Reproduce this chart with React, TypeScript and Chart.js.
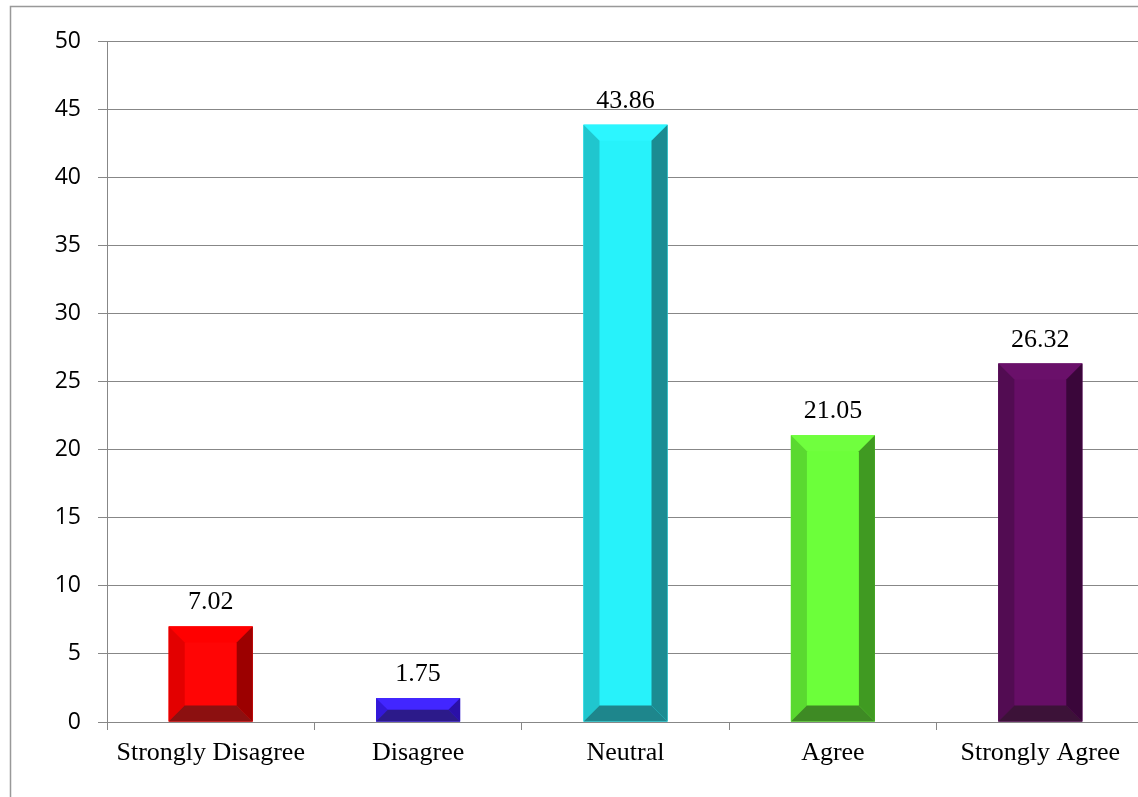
import React, { useEffect, useRef } from "react";
import { Chart, registerables } from "chart.js";

Chart.register(...registerables);

const categories = ["Strongly Disagree", "Disagree", "Neutral", "Agree", "Strongly Agree"];
const percentValues = [7.02, 1.75, 43.86, 21.05, 26.32];
const yTicks = [0, 5, 10, 15, 20, 25, 30, 35, 40, 45, 50];

const faceColors = ["#FF0505", "#3C1FF6", "#27F2FA", "#6CFF3A", "#660E66"];
const topColors = ["#FF0000", "#4226FF", "#2CF6FF", "#70FF3E", "#6A106A"];
const leftColors = ["#E30000", "#3318D8", "#20C6CE", "#5AD930", "#520C52"];
const rightColors = ["#9C0000", "#2A10A8", "#1B8C92", "#409A22", "#3A063A"];
const bottomColors = ["#8C1010", "#2C1A8A", "#1E868C", "#3E8A24", "#3C1238"];

const GRID = "#878787";
const CANVAS_W = 1144;
const CANVAS_H = 797;

const bevelPlugin = {
  id: "bevel",
  afterDatasetsDraw(chart: any) {
    const ctx = chart.ctx;
    const meta = chart.getDatasetMeta(0);
    meta.data.forEach((bar: any, i: number) => {
      const p = bar.getProps(["x", "y", "base", "width"], true);
      const l = p.x - p.width / 2;
      const r = p.x + p.width / 2;
      const t = Math.min(p.y, p.base);
      const bt = Math.max(p.y, p.base);
      const h = bt - t;
      const b = Math.min(16, h / 2, p.width / 2);
      const poly = (pts: number[][], c: string) => {
        ctx.beginPath();
        ctx.moveTo(pts[0][0], pts[0][1]);
        for (let k = 1; k < pts.length; k++) ctx.lineTo(pts[k][0], pts[k][1]);
        ctx.closePath();
        ctx.fillStyle = c;
        ctx.fill();
      };
      ctx.save();
      ctx.fillStyle = faceColors[i];
      ctx.fillRect(l, t, r - l, h);
      poly([[l, t], [r, t], [r - b, t + b], [l + b, t + b]], topColors[i]);
      poly([[l, t], [l + b, t + b], [l + b, bt - b], [l, bt]], leftColors[i]);
      poly([[r, t], [r, bt], [r - b, bt - b], [r - b, t + b]], rightColors[i]);
      poly([[l, bt], [l + b, bt - b], [r - b, bt - b], [r, bt]], bottomColors[i]);
      ctx.fillStyle = "#000";
      ctx.font = '26px "Liberation Serif", "Times New Roman", serif';
      ctx.textAlign = "center";
      ctx.textBaseline = "alphabetic";
      ctx.fillText(percentValues[i].toFixed(2), p.x, t - 17);
      ctx.restore();
    });
  },
};

const framePlugin = {
  id: "frame",
  beforeDraw(chart: any) {
    const ctx = chart.ctx;
    ctx.save();
    ctx.fillStyle = "#fff";
    ctx.fillRect(0, 0, chart.width, chart.height);
    ctx.strokeStyle = "#999";
    ctx.lineWidth = 1.5;
    ctx.strokeRect(10.5, 6.5, chart.width + 20, chart.height + 20);
    ctx.restore();
  },
};

export default function App() {
  const ref = useRef<HTMLCanvasElement>(null);
  useEffect(() => {
    if (!ref.current) return;
    const chart = new Chart(ref.current, {
      type: "bar",
      data: {
        labels: categories,
        datasets: [
          {
            data: percentValues,
            backgroundColor: faceColors,
            borderWidth: 0,
            barPercentage: 0.81,
            categoryPercentage: 0.5,
          },
        ],
      },
      options: {
        animation: false,
        responsive: false,
        layout: { padding: { top: 41, right: 0, left: 0, bottom: 0 } },
        plugins: { legend: { display: false }, tooltip: { enabled: false } },
        scales: {
          x: {
            grid: { drawOnChartArea: false, drawTicks: true, tickLength: 8, color: GRID, offset: true },
            border: { color: GRID, width: 1 },
            ticks: {
              color: "#000",
              padding: 8,
              maxRotation: 0,
              autoSkip: false,
              font: { family: '"Liberation Serif", "Times New Roman", serif', size: 26 },
            },
            afterFit: (s: any) => {
              s.height = 75;
            },
          },
          y: {
            min: 0,
            max: 50,
            afterBuildTicks: (s: any) => {
              s.ticks = yTicks.map((v) => ({ value: v }));
            },
            grid: { color: GRID, lineWidth: 1, drawTicks: true, tickLength: 9 },
            border: { color: GRID, width: 1 },
            ticks: {
              color: "#000",
              padding: 17,
              font: { family: '"Open Sans", sans-serif', size: 23 },
            },
            afterFit: (s: any) => {
              s.width = 107;
            },
          },
        },
      },
      plugins: [framePlugin, bevelPlugin],
    });
    return () => chart.destroy();
  }, []);
  return (
    <div
      style={{
        position: "absolute",
        left: 0,
        top: 0,
        width: 1138,
        height: 797,
        overflow: "hidden",
        background: "#fff",
      }}
    >
      <canvas ref={ref} width={CANVAS_W} height={CANVAS_H} style={{ display: "block" }} />
    </div>
  );
}
